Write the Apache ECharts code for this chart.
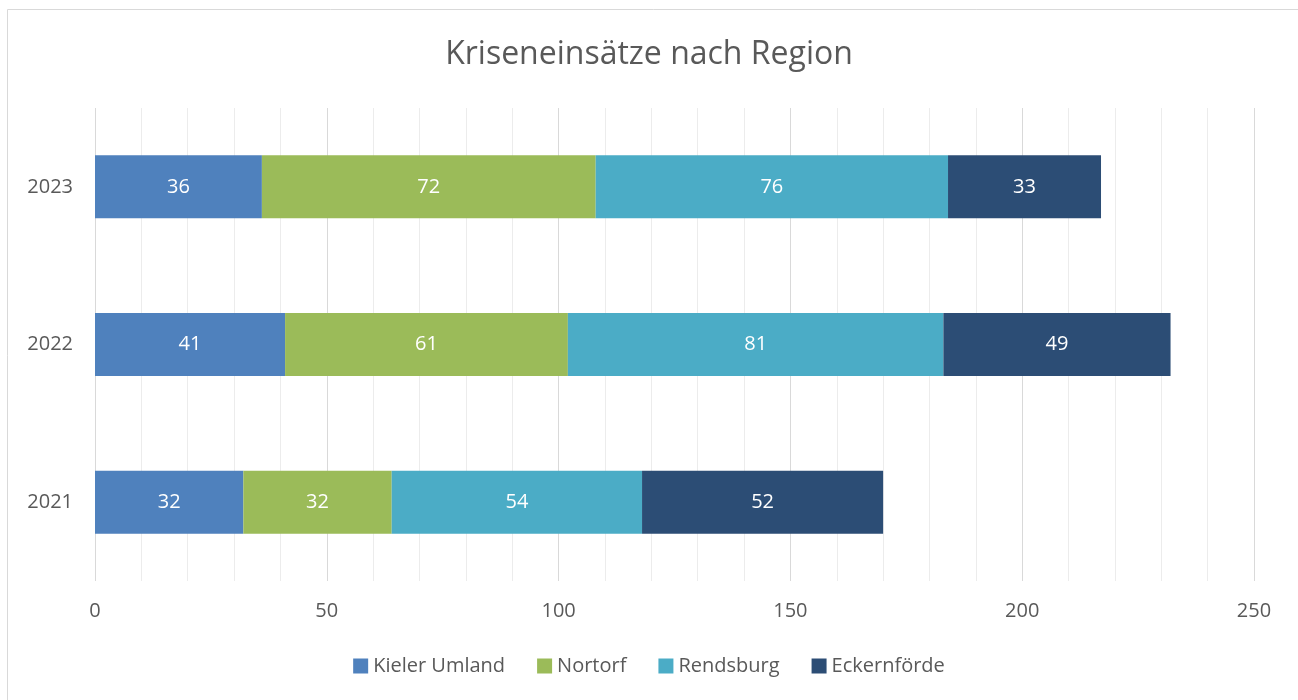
<!DOCTYPE html>
<html>
<head>
<meta charset="utf-8">
<script src="https://cdn.jsdelivr.net/npm/echarts@6/dist/echarts.min.js"></script>
<style>
  html, body { margin: 0; padding: 0; background: #fff; }
  #main { width: 1298px; height: 700px; }
</style>
</head>
<body>
<div id="main"></div>
<script>
var years = ['2021', '2022', '2023'];
var kielerUmland = [32, 41, 36];
var nortorf = [32, 61, 72];
var rendsburg = [54, 81, 76];
var eckernfoerde = [52, 49, 33];

var myChart = echarts.init(document.getElementById('main'));

var labelStyle = {
    show: true,
    color: '#fff',
    fontSize: 20,
    fontFamily: 'Open Sans'
};

function makeSeries(name, data, color) {
    return {
        name: name,
        type: 'bar',
        stack: 'total',
        barWidth: 63,
        data: data,
        itemStyle: { color: color },
        label: labelStyle
    };
}

option = {
    textStyle: { fontFamily: 'Open Sans' },
    title: {
        text: 'Kriseneinsätze nach Region',
        left: 'center',
        top: 34,
        textStyle: { color: '#595959', fontSize: 32, fontWeight: 'normal', fontFamily: 'Open Sans' }
    },
    graphic: [{
        type: 'rect',
        shape: { x: 7.5, y: 9.5, width: 1300, height: 700 },
        style: { fill: 'none', stroke: '#d9d9d9', lineWidth: 1 },
        silent: true
    }],
    legend: {
        bottom: 19,
        itemWidth: 15,
        itemHeight: 15,
        itemGap: 32,
        icon: 'rect',
        textStyle: { color: '#595959', fontSize: 20, fontFamily: 'Open Sans' },
        data: ['Kieler Umland', 'Nortorf', 'Rendsburg', 'Eckernförde']
    },
    grid: { left: 95, right: 44, top: 108, bottom: 119, containLabel: false },
    xAxis: {
        type: 'value',
        min: 0,
        max: 250,
        interval: 50,
        minorTick: { show: false, splitNumber: 5 },
        minorSplitLine: { show: true, lineStyle: { color: '#ececec', width: 1 } },
        splitLine: { show: true, lineStyle: { color: '#d9d9d9', width: 1 } },
        axisLine: { show: false },
        axisTick: { show: false },
        axisLabel: { color: '#595959', fontSize: 20, margin: 20, fontFamily: 'Open Sans' }
    },
    yAxis: {
        type: 'category',
        data: years,
        axisLine: { show: false },
        axisTick: { show: false },
        axisLabel: { color: '#595959', fontSize: 20, margin: 22, fontFamily: 'Open Sans' }
    },
    series: [
        makeSeries('Kieler Umland', kielerUmland, '#4f81bd'),
        makeSeries('Nortorf', nortorf, '#9bbb59'),
        makeSeries('Rendsburg', rendsburg, '#4bacc6'),
        makeSeries('Eckernförde', eckernfoerde, '#2c4d75')
    ]
};

myChart.setOption(option);
</script>
</body>
</html>
